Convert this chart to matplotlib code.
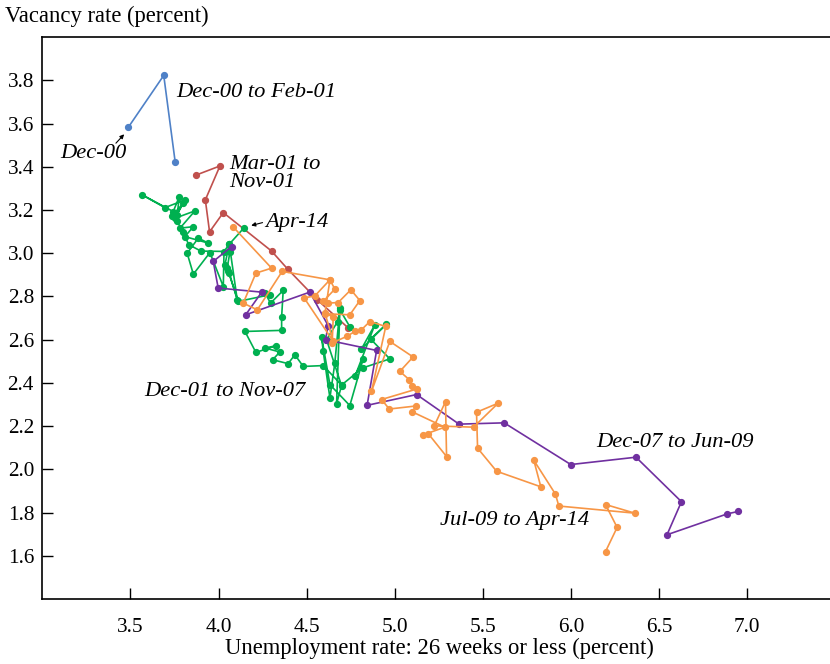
import numpy as np
import matplotlib
matplotlib.use("Agg")
from matplotlib import pyplot as plt

plt.rcParams['font.family'] = ['Liberation Serif', 'DejaVu Serif']

# Dec-00 to Feb-01
blue_u = [3.488, 3.689, 3.754]
blue_v = [3.583, 3.823, 3.422]

# Mar-01 to Nov-01
red_u = [3.870, 4.008, 3.925, 3.949, 4.027, 4.301, 4.392, 4.560, 4.736]
red_v = [3.361, 3.404, 3.247, 3.099, 3.188, 3.010, 2.927, 2.785, 2.654]

# Dec-01 to Nov-07
green_u = [4.745, 4.689, 4.676, 4.613, 4.698, 4.670, 4.689, 4.660, 4.632, 4.594,
           4.585, 4.632, 4.745, 4.821, 4.774, 4.887, 4.811, 4.953, 4.863, 4.972,
           4.817, 4.698, 4.594, 4.481, 4.433, 4.395, 4.307, 4.348, 4.265, 4.326,
           4.212, 4.150, 4.358, 4.358, 4.367, 4.295, 4.263, 4.292, 4.112, 4.055,
           4.036, 4.061, 4.031, 4.027, 3.951, 3.857, 3.822, 3.885, 3.942, 3.809,
           3.857, 3.781, 3.866, 3.753, 3.736, 3.800, 3.762, 3.809, 3.696, 3.567,
           3.743, 3.777, 3.762, 3.800, 3.830, 3.900, 4.065, 4.049, 4.061, 4.106,
           4.061, 4.146]
green_v = [2.660, 2.738, 2.684, 2.600, 2.387, 2.304, 2.746, 2.492, 2.330, 2.546,
           2.612, 2.392, 2.295, 2.511, 2.430, 2.669, 2.557, 2.672, 2.603, 2.511,
           2.469, 2.390, 2.480, 2.476, 2.530, 2.489, 2.507, 2.543, 2.561, 2.572,
           2.541, 2.638, 2.643, 2.705, 2.828, 2.769, 2.818, 2.808, 2.777, 2.916,
           2.946, 3.042, 3.008, 2.846, 3.003, 2.903, 3.000, 3.070, 3.047, 3.077,
           3.123, 3.116, 3.196, 3.162, 3.173, 3.232, 3.177, 3.247, 3.211, 3.270,
           3.193, 3.262, 3.150, 3.100, 3.040, 3.010, 3.008, 2.931, 2.908, 2.785,
           3.042, 3.119]

# Dec-07 to Jun-09
purple_u = [4.074, 3.970, 3.998, 4.245, 4.154, 4.518, 4.622, 4.607, 4.897, 4.843,
            5.124, 5.365, 5.621, 5.999, 6.369, 6.627, 6.545, 6.888, 6.950]
purple_v = [3.031, 2.962, 2.839, 2.820, 2.715, 2.820, 2.665, 2.600, 2.550, 2.296,
            2.346, 2.209, 2.215, 2.022, 2.056, 1.850, 1.697, 1.794, 1.805]

# Jul-09 to Apr-14
orange_u = [6.196, 6.262, 6.196, 6.362, 5.931, 5.912, 5.789, 5.829, 5.578, 5.470,
            5.464, 5.587, 5.447, 5.224, 5.288, 5.294, 5.190, 5.161, 5.284, 5.099,
            5.120, 4.969, 4.925, 5.127, 5.099, 5.082, 5.029, 5.104, 4.972, 4.868,
            4.949, 4.859, 4.811, 4.774, 4.727, 4.645, 4.651, 4.604, 4.745, 4.802,
            4.751, 4.679, 4.622, 4.594, 4.660, 4.632, 4.547, 4.486, 4.651, 4.604,
            4.632, 4.361, 4.220, 4.140, 4.212, 4.301, 4.084]
orange_v = [1.619, 1.731, 1.837, 1.797, 1.830, 1.885, 2.042, 1.919, 1.991, 2.098,
            2.264, 2.306, 2.195, 2.201, 2.313, 2.059, 2.165, 2.159, 2.195, 2.266,
            2.293, 2.279, 2.323, 2.372, 2.387, 2.415, 2.453, 2.520, 2.592, 2.361,
            2.661, 2.684, 2.646, 2.638, 2.615, 2.585, 2.707, 2.720, 2.715, 2.781,
            2.831, 2.772, 2.769, 2.777, 2.834, 2.877, 2.803, 2.793, 2.592, 2.723,
            2.877, 2.916, 2.738, 2.769, 2.908, 2.931, 3.121]

fig = plt.figure(figsize=(8.3, 6.64), dpi=100)
ax = fig.add_axes([0.051, 0.098, 0.949, 0.846])

series = [
    (blue_u, blue_v, '#4f81c7'),
    (red_u, red_v, '#c0504d'),
    (green_u, green_v, '#00b050'),
    (purple_u, purple_v, '#7030a0'),
    (orange_u, orange_v, '#f79646'),
]
for u, v, c in series:
    ax.plot(u, v, '-o', color=c, lw=1.2, ms=4.2, mec=c)

ax.set_xlim(3.0, 7.47)
ax.set_ylim(1.4, 4.0)
ax.set_xticks([3.5, 4.0, 4.5, 5.0, 5.5, 6.0, 6.5, 7.0])
ax.set_yticks([1.6, 1.8, 2.0, 2.2, 2.4, 2.6, 2.8, 3.0, 3.2, 3.4, 3.6, 3.8])
ax.xaxis.set_major_formatter(matplotlib.ticker.FormatStrFormatter('%.1f'))
ax.yaxis.set_major_formatter(matplotlib.ticker.FormatStrFormatter('%.1f'))
ax.tick_params(axis='x', direction='in', length=8, width=1, pad=14, labelsize=15.3)
ax.tick_params(axis='y', direction='in', length=8, width=1, pad=6, labelsize=15.3)
ax.spines['right'].set_visible(False)
for s in ['left', 'bottom', 'top']:
    ax.spines[s].set_linewidth(1.2)

lab = dict(fontsize=16.2, style='italic', va='center')
ax.text(3.76, 3.745, 'Dec-00 to Feb-01', **lab)
ax.text(3.48, 3.462, 'Dec-00', ha='right', **{k: v for k, v in lab.items()})
ax.annotate('', xy=(3.475, 3.56), xytext=(3.407, 3.50),
            arrowprops=dict(arrowstyle='-|>', color='black', lw=0.8, mutation_scale=6))
ax.text(4.06, 3.37, 'Mar-01 to\nNov-01', linespacing=0.95, **lab)
ax.text(4.265, 3.14, 'Apr-14', **lab)
ax.annotate('', xy=(4.17, 3.125), xytext=(4.265, 3.145),
            arrowprops=dict(arrowstyle='-|>', color='black', lw=0.8, mutation_scale=6))
ax.text(3.58, 2.36, 'Dec-01 to Nov-07', **lab)
ax.text(6.145, 2.122, 'Dec-07 to Jun-09', **lab)
ax.text(5.255, 1.762, 'Jul-09 to Apr-14', **lab)

fig.text(5 / 830, 1 - 16 / 664, 'Vacancy rate (percent)', fontsize=16.3, va='center')
fig.text(439 / 830, 1 - 648 / 664, 'Unemployment rate: 26 weeks or less (percent)',
         fontsize=16.3, ha='center', va='center')

fig.savefig('out.png', dpi=100)
